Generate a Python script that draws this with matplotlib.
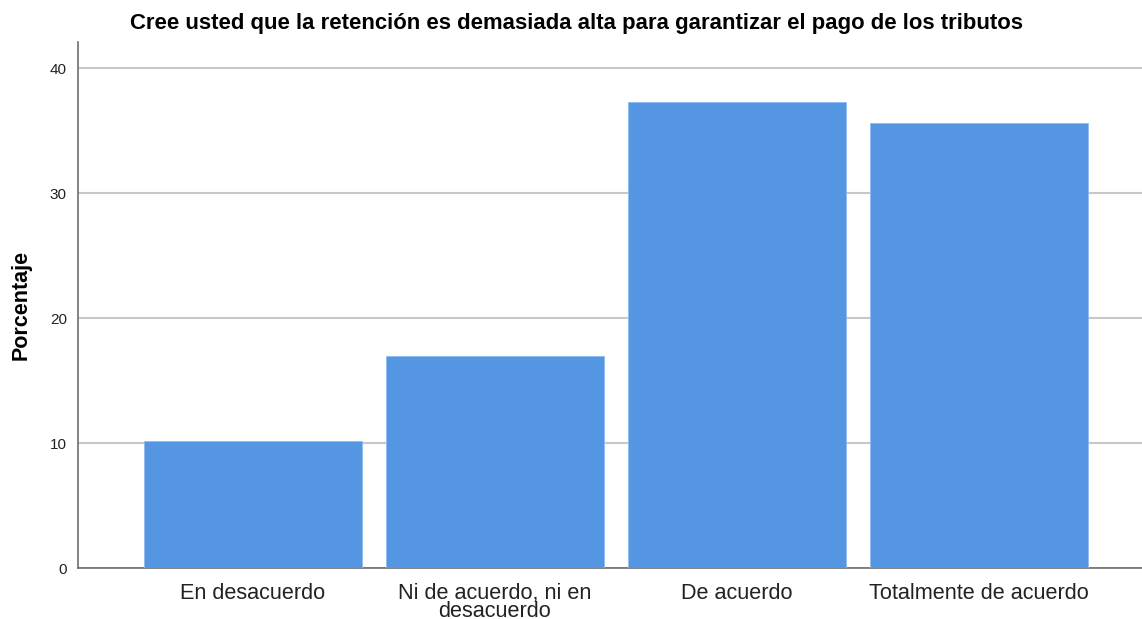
import matplotlib
matplotlib.use("Agg")
import matplotlib.pyplot as plt

# ============================================================
# Datos
# ============================================================

categorias = [
    "En desacuerdo",
    "Ni de acuerdo, ni en\ndesacuerdo",
    "De acuerdo",
    "Totalmente de acuerdo",
]
porcentajes = [10.2, 17.0, 37.3, 35.6]
ticks_y = [0, 10, 20, 30, 40]

titulo = "Cree usted que la retención es demasiada alta para garantizar el pago de los tributos"

# ============================================================
# Gráfico
# ============================================================

plt.rcParams["font.family"] = ["Liberation Sans", "DejaVu Sans"]

fig = plt.figure(figsize=(11.42, 6.19), dpi=100)
ax = fig.add_axes([78 / 1142, 1 - 568 / 619, 1 - 78 / 1142, (568 - 42) / 619])

posiciones = list(range(len(categorias)))

ax.bar(
    posiciones,
    porcentajes,
    width=0.9,
    color="#5596e3",
    edgecolor="#8fbaf0",
    linewidth=0.6,
    zorder=3,
)

ax.set_xlim(-0.722, 3.674)
ax.set_ylim(0, 42.1)
ax.set_yticks(ticks_y)
ax.set_xticks(posiciones)
ax.set_xticklabels(categorias, fontsize=15.6, color="#222222", linespacing=0.82)
ax.tick_params(axis="x", length=0, pad=11)
ax.tick_params(axis="y", length=0, pad=8, labelsize=11, labelcolor="#222222")

ax.grid(axis="y", color="#c8c8c8", linewidth=1.5, zorder=0)

for lado in ["top", "right"]:
    ax.spines[lado].set_visible(False)
ax.spines["left"].set_color("#6e6e6e")
ax.spines["bottom"].set_color("#6e6e6e")
ax.spines["left"].set_linewidth(1.2)
ax.spines["bottom"].set_linewidth(1.2)

ax.set_ylabel("Porcentaje", fontsize=15.5, fontweight="bold", labelpad=13)

fig.text(
    577 / 1142,
    1 - 23 / 619,
    titulo,
    ha="center",
    va="center",
    fontsize=15.9,
    fontweight="bold",
)

fig.savefig("out.png", dpi=100)
plt.close(fig)
